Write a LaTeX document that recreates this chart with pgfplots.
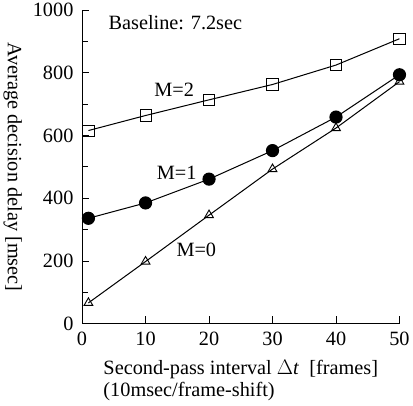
\documentclass[border=0pt]{standalone}
\usepackage{fontspec}
\setmainfont{Liberation Serif}
\usepackage{pgfplots}
\pgfplotsset{compat=1.18}

\begin{document}
\begin{tikzpicture}
\begin{axis}[
  scale only axis, width=313pt, height=309pt,
  xmin=0, xmax=50, ymin=0, ymax=1000,
  axis x line*=bottom, axis y line*=left,
  axis line style={line width=0.8pt},
  xtick={0,10,...,50}, ytick={0,200,...,1000},
  minor ytick={100,300,...,900},
  tick align=inside, major tick length=7pt, minor tick length=6pt,
  tick style={line width=0.8pt, black},
  /pgf/number format/assume math mode=true,
  /pgf/number format/set thousands separator={},
  tick label style={font=\fontsize{20}{22}\selectfont},
  yticklabel style={xshift=-5pt},
  xticklabel style={yshift=-5pt},
  label style={font=\fontsize{20}{21}\selectfont},
  xlabel={\begin{tabular}{@{}l@{}}Second-pass interval $\Delta$\textit{t}\ \ [frames]\\(10msec/frame-shift)\end{tabular}},
  xlabel shift=7pt,
  ylabel={Average decision delay [msec]},
  ylabel style={rotate=180, yshift=4pt},
  ylabel shift=8pt,
  clip=false,
  every axis plot/.append style={line width=1pt, black},
]
\addplot[mark=square, mark size=5.5pt, mark options={fill=white, line width=0.9pt}] coordinates {
  (1,616) (10,664) (20,714) (30,763) (40,825) (50,909)};
\addplot[mark=*, mark size=6pt] coordinates {
  (1,336) (10,385) (20,461) (30,552) (40,659) (50,794)};
\addplot[mark=triangle, mark size=5pt, mark options={fill=white, line width=0.9pt}] coordinates {
  (1,66) (10,198) (20,346) (30,493) (40,624) (50,772)};
\node[font=\fontsize{20}{22}\selectfont] at (axis cs:14.7,961) {Baseline: 7.2sec};
\node[font=\fontsize{20}{22}\selectfont] at (axis cs:14.5,745) {M=2};
\node[font=\fontsize{20}{22}\selectfont] at (axis cs:14.9,481) {M=1};
\node[font=\fontsize{20}{22}\selectfont] at (axis cs:18.0,236) {M=0};
\end{axis}
\end{tikzpicture}
\end{document}
